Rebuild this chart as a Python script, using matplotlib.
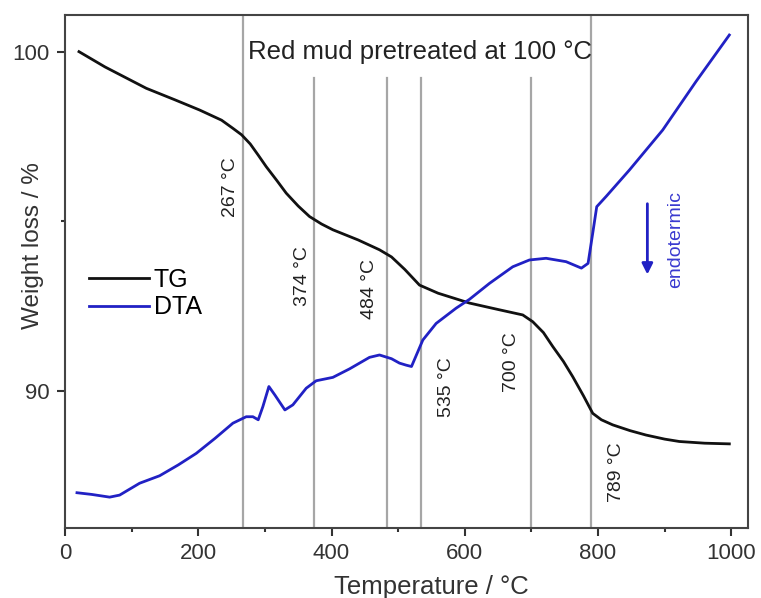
import matplotlib.pyplot as plt

plt.rcParams['font.family'] = ['Liberation Sans', 'DejaVu Sans']

# TG curve (weight %)
tg_temp = [21, 60, 122, 165, 202, 235, 252, 265, 278, 290, 302, 318, 332, 350, 367, 385, 402, 440,
           472, 490, 510, 532, 560, 607, 650, 687, 702, 718, 732, 748, 762, 778, 792, 805,
           822, 848, 872, 900, 922, 960, 997]
tg_val = [100.0, 99.55, 98.92, 98.58, 98.28, 97.98, 97.74, 97.55, 97.28, 96.95, 96.61, 96.20,
          95.83, 95.45, 95.14, 94.92, 94.75, 94.45, 94.16, 93.95, 93.58, 93.12, 92.88, 92.59,
          92.40, 92.24, 92.04, 91.72, 91.31, 90.87, 90.42, 89.86, 89.34, 89.15, 89.00, 88.83,
          88.70, 88.58, 88.51, 88.46, 88.44]

# DTA curve (arbitrary units, same scale as weight axis)
dta_temp = [18, 40, 67, 82, 112, 142, 170, 197, 225, 252, 272, 282, 290, 297, 306, 315, 330,
            342, 362, 377, 402, 427, 457, 472, 490, 502, 512, 520, 537, 557, 587, 607, 637,
            672, 697, 722, 752, 775, 785, 792, 798, 812, 847, 897, 947, 997]
dta_val = [87.00, 86.95, 86.87, 86.93, 87.28, 87.50, 87.82, 88.16, 88.60, 89.05, 89.24, 89.24,
           89.15, 89.54, 90.13, 89.88, 89.44, 89.59, 90.08, 90.30, 90.40, 90.65, 90.99, 91.06,
           90.95, 90.82, 90.76, 90.72, 91.50, 91.99, 92.44, 92.70, 93.17, 93.66, 93.86, 93.91,
           93.81, 93.62, 93.76, 94.65, 95.43, 95.73, 96.51, 97.69, 99.12, 100.49]

# marked transition temperatures and where their labels sit
peak_temps = [267, 374, 484, 535, 700, 789]
label_x = [248, 356, 457, 573, 670, 828]
label_y = [96.0, 93.4, 93.0, 90.1, 90.85, 87.6]
full_height = [True, False, False, False, False, True]

ylim = (85.97, 101.08)
line_top = 99.22

fig = plt.figure(figsize=(7.61, 5.98), dpi=100)
ax = fig.add_axes([0.0854, 0.1176, 0.8975, 0.8573])
ax.set_xlim(0, 1025)
ax.set_ylim(*ylim)

for t, full in zip(peak_temps, full_height):
    top = ylim[1] if full else line_top
    ax.plot([t, t], [ylim[0], top], color='#a6a6a6', lw=1.6, zorder=1)

for t, lx, ly in zip(peak_temps, label_x, label_y):
    ax.text(lx, ly, f'{t} °C', rotation=90, ha='center', va='center',
            fontsize=14, color='#222222')

ax.plot(tg_temp, tg_val, color='#111111', lw=2.0, label='TG', zorder=3)
ax.plot(dta_temp, dta_val, color='#2121c4', lw=2.0, label='DTA', zorder=3)

ax.text(533, 100.0, 'Red mud pretreated at 100 °C', ha='center', va='center',
        fontsize=18.5, color='#222222')

# endothermic direction marker
ax.annotate('', xy=(874, 93.35), xytext=(874, 95.6),
            arrowprops=dict(arrowstyle='-|>', color='#2121c4', lw=2, mutation_scale=16))
ax.text(917, 94.45, 'endotermic', rotation=90, ha='center', va='center',
        fontsize=14, color='#3a3ad0')

ax.legend(loc='upper left', bbox_to_anchor=(0.02, 0.527), frameon=False, fontsize=18,
          handlelength=2.4, handletextpad=0.2, labelspacing=0.15, borderaxespad=0)

ax.set_xticks([0, 200, 400, 600, 800, 1000])
ax.set_xticks([100, 300, 500, 700, 900], minor=True)
ax.set_yticks([90, 100])
ax.set_yticks([95], minor=True)
ax.tick_params(which='major', direction='out', length=6, width=1.5, labelsize=16,
               colors='#333333', labelcolor='#333333', pad=5)
ax.tick_params(which='minor', direction='out', length=3, width=1.5, colors='#333333')
ax.set_xlabel('Temperature / °C', fontsize=18.5, color='#333333')
ax.set_ylabel('Weight loss / %', fontsize=17.5, color='#333333')
ax.xaxis.set_label_coords(0.537, -0.092)
ax.yaxis.set_label_coords(-0.03, 0.551)
for s in ax.spines.values():
    s.set_color('#444444')
    s.set_linewidth(1.5)

fig.savefig('out.png', dpi=100)
